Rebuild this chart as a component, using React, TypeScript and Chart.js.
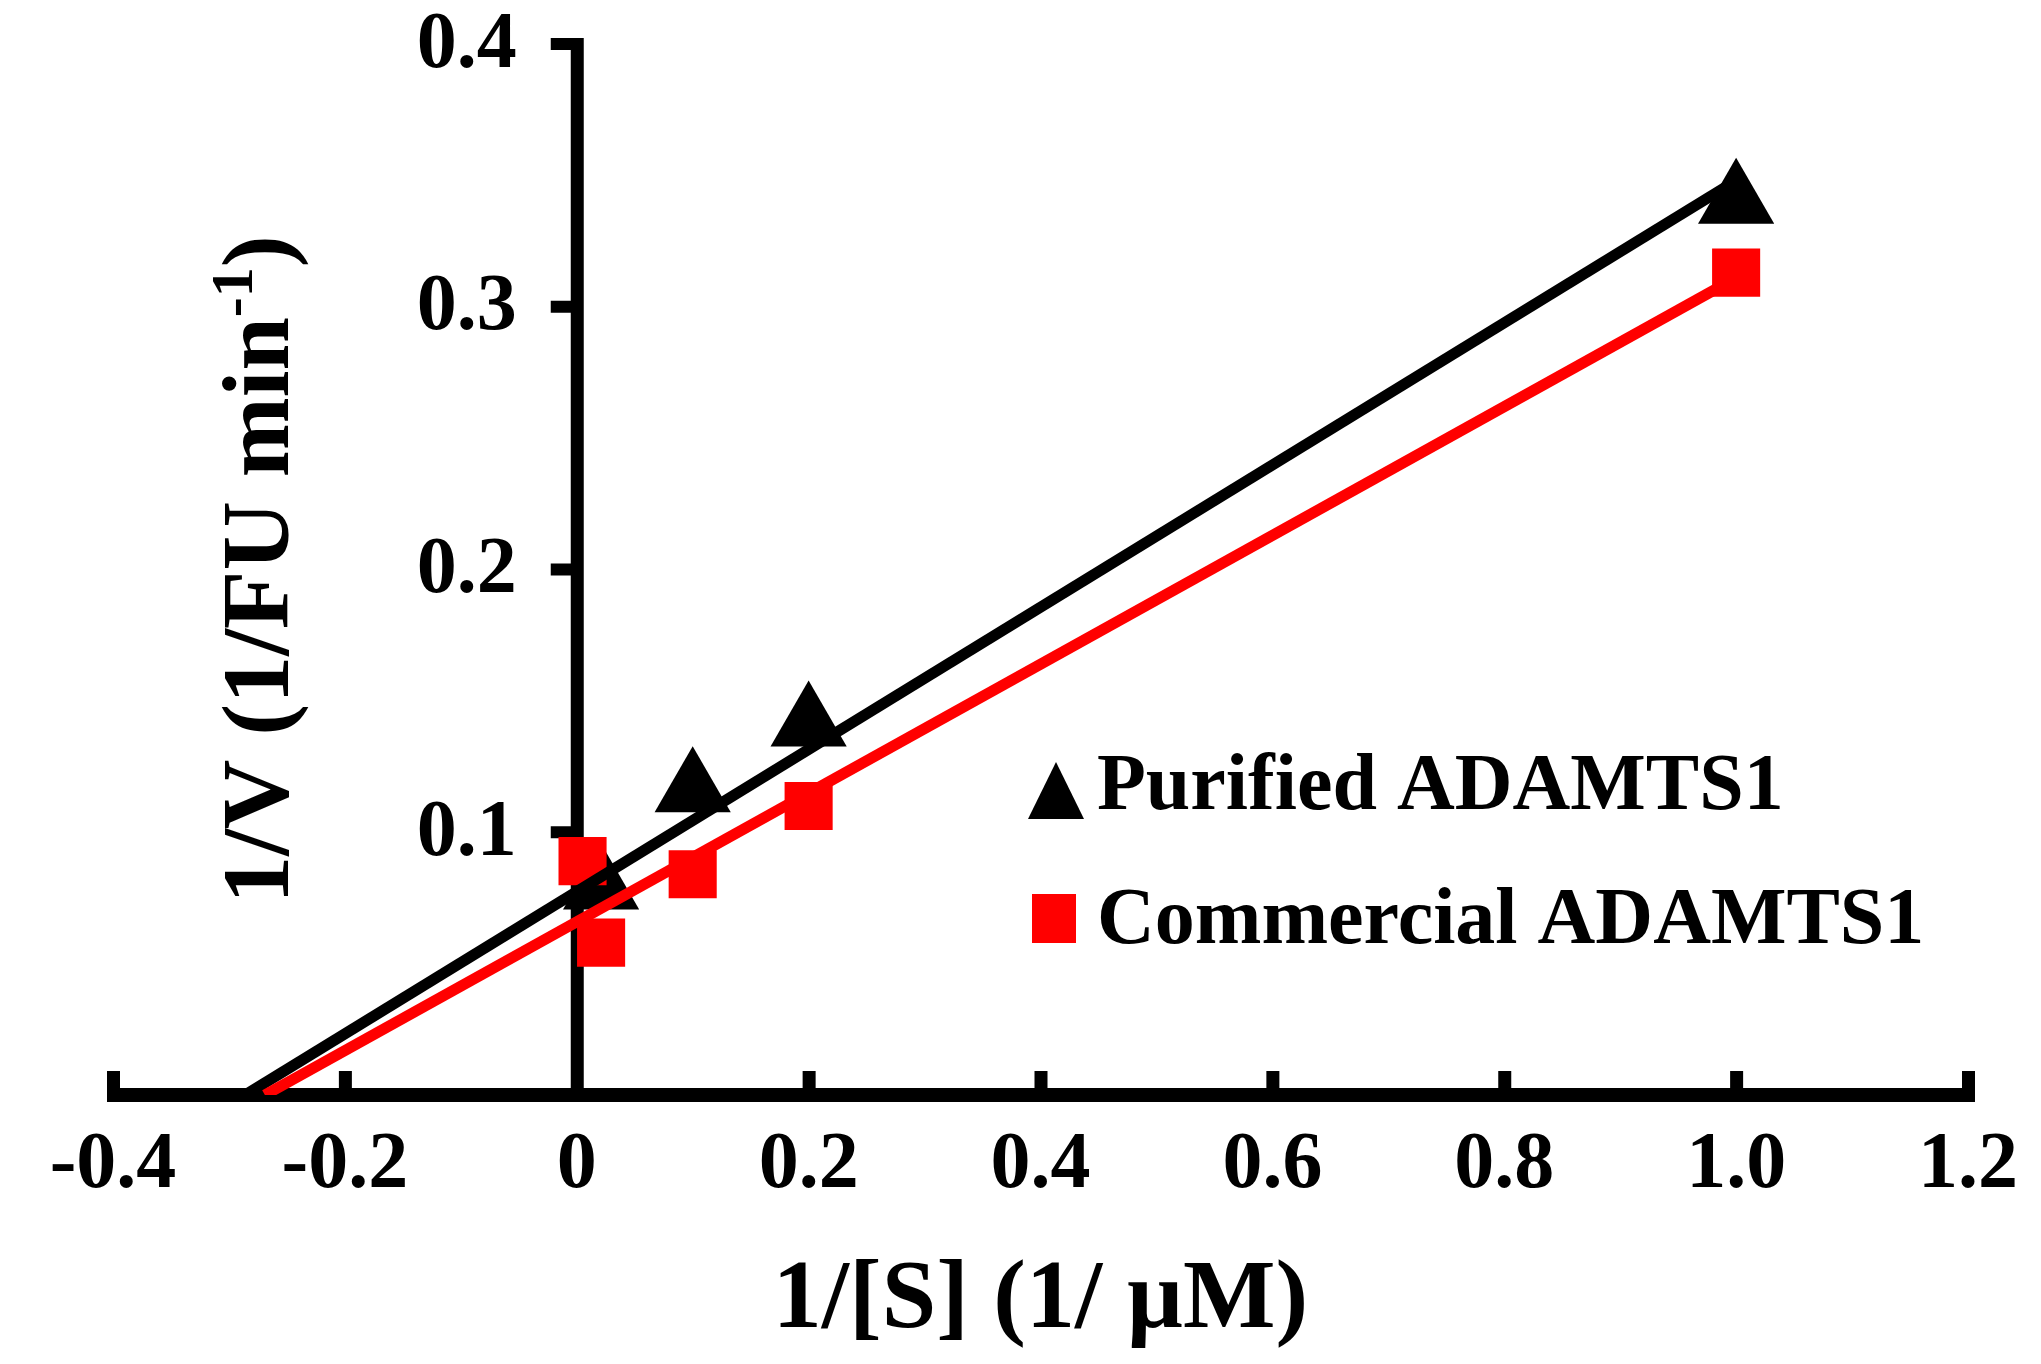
import React, { useEffect, useRef } from 'react';
import { Chart, registerables } from 'chart.js';

Chart.register(...registerables);

// axis ticks
const xTicks = [-0.4, -0.2, 0, 0.2, 0.4, 0.6, 0.8, 1.0, 1.2];
const yTicks = [0.1, 0.2, 0.3, 0.4];

// measured points (1/[S], 1/V)
const purifiedX = [0.021, 0.1, 0.2, 1.0];
const purifiedY = [0.079, 0.116, 0.141, 0.34];
const commercialX = [0.005, 0.021, 0.1, 0.2, 1.0];
const commercialY = [0.089, 0.058, 0.084, 0.11, 0.313];

// linear fits (Lineweaver-Burk), end points
const purifiedFitX = [-0.286, 1.0];
const purifiedFitY = [0, 0.348];
const commercialFitX = [-0.269, 1.0];
const commercialFitY = [0, 0.311];

const seriesNames = ['Purified ADAMTS1', 'Commercial ADAMTS1'];
const xTitle = '1/[S] (1/ µM)';
const yTitleMain = '1/V (1/FU min';
const yTitleSup = '-1';
const yTitleEnd = ')';

const FONT = "'Liberation Serif', 'Times New Roman', serif";
const RED = '#ff0000';

const toPoints = (xs: number[], ys: number[]) => xs.map((x, i) => ({ x, y: ys[i] }));

const axesPlugin = {
  id: 'lbAxes',
  beforeDatasetsDraw(chart: any) {
    const { ctx } = chart;
    const { x, y } = chart.scales;
    const x0 = x.getPixelForValue(0);
    const y0 = y.getPixelForValue(0);
    const yTop = y.getPixelForValue(yTicks[yTicks.length - 1]);
    const left = x.getPixelForValue(xTicks[0]);
    const right = x.getPixelForValue(xTicks[xTicks.length - 1]);
    ctx.save();
    ctx.fillStyle = '#000';
    // x axis + inner ticks
    ctx.fillRect(left - 6, y0 - 7, right - left + 13, 14);
    xTicks.forEach((v) => {
      if (v === 0) return;
      const px = x.getPixelForValue(v);
      ctx.fillRect(px - 6, y0 - 24, 13, 18);
    });
    // y axis + outer ticks
    ctx.fillRect(x0 - 6, yTop - 6, 13, y0 - yTop + 6);
    yTicks.forEach((v) => {
      const py = y.getPixelForValue(v);
      ctx.fillRect(x0 - 26, py - 6, 22, 12);
    });
    ctx.restore();
  },
  afterDraw(chart: any) {
    const { ctx } = chart;
    const { x, y } = chart.scales;
    const x0 = x.getPixelForValue(0);
    const y0 = y.getPixelForValue(0);
    const yTop = y.getPixelForValue(yTicks[yTicks.length - 1]);
    ctx.save();
    ctx.fillStyle = '#000';

    // y tick labels, left of the axis at x = 0
    ctx.font = `bold 80px ${FONT}`;
    ctx.textAlign = 'right';
    ctx.textBaseline = 'middle';
    yTicks.forEach((v) => {
      ctx.fillText(v.toFixed(1), x0 - 60, y.getPixelForValue(v) + 2);
    });

    // y title with superscript
    const mainFont = `bold 96px ${FONT}`;
    const supFont = `bold 60px ${FONT}`;
    ctx.font = mainFont;
    const wMain = ctx.measureText(yTitleMain).width;
    const wEnd = ctx.measureText(yTitleEnd).width;
    ctx.font = supFont;
    const wSup = ctx.measureText(yTitleSup).width;
    const total = wMain + wSup + wEnd;
    ctx.translate(288, (y0 + yTop) / 2);
    ctx.rotate(-Math.PI / 2);
    ctx.textAlign = 'left';
    ctx.textBaseline = 'alphabetic';
    const start = -total / 2;
    ctx.font = mainFont;
    ctx.fillText(yTitleMain, start, 0);
    ctx.font = supFont;
    ctx.fillText(yTitleSup, start + wMain, -36);
    ctx.font = mainFont;
    ctx.fillText(yTitleEnd, start + wMain + wSup, 0);
    ctx.restore();

    // legend
    ctx.save();
    ctx.fillStyle = '#000';
    ctx.beginPath();
    ctx.moveTo(1056, 762);
    ctx.lineTo(1084, 819);
    ctx.lineTo(1028, 819);
    ctx.closePath();
    ctx.fill();
    ctx.fillStyle = RED;
    ctx.fillRect(1032, 894, 44, 49);
    ctx.fillStyle = '#000';
    ctx.font = `bold 80px ${FONT}`;
    ctx.textAlign = 'left';
    ctx.textBaseline = 'alphabetic';
    ctx.fillText(seriesNames[0], 1097, 809);
    ctx.fillText(seriesNames[1], 1097, 943);
    ctx.restore();
  },
};

function LineweaverBurkChart() {
  const canvasRef = useRef<HTMLCanvasElement>(null);

  useEffect(() => {
    if (!canvasRef.current) return;
    const chart = new Chart(canvasRef.current, {
      type: 'scatter',
      data: {
        datasets: [
          {
            label: 'Commercial fit',
            data: toPoints(commercialFitX, commercialFitY),
            showLine: true,
            borderColor: RED,
            borderWidth: 11,
            pointRadius: 0,
          },
          {
            label: 'Purified fit',
            data: toPoints(purifiedFitX, purifiedFitY),
            showLine: true,
            borderColor: '#000',
            borderWidth: 11,
            pointRadius: 0,
          },
          {
            label: seriesNames[1],
            data: toPoints(commercialX, commercialY),
            pointStyle: 'rect',
            pointRadius: 34,
            pointHoverRadius: 34,
            backgroundColor: RED,
            borderColor: RED,
            pointBorderWidth: 0,
          },
          {
            label: seriesNames[0],
            data: toPoints(purifiedX, purifiedY),
            pointStyle: 'triangle',
            pointRadius: 44,
            pointHoverRadius: 44,
            backgroundColor: '#000',
            borderColor: '#000',
            pointBorderWidth: 0,
          },
        ],
      },
      options: {
        animation: false,
        responsive: false,
        devicePixelRatio: 1,
        events: [],
        layout: { padding: { left: 113, right: 66, top: 36, bottom: 0 } },
        plugins: { legend: { display: false }, tooltip: { enabled: false } },
        scales: {
          x: {
            type: 'linear',
            min: xTicks[0],
            max: xTicks[xTicks.length - 1],
            afterBuildTicks: (s: any) => {
              s.ticks = xTicks.map((value) => ({ value }));
            },
            afterFit: (s: any) => {
              s.height = 269;
            },
            grid: { display: false, drawTicks: false },
            border: { display: false },
            ticks: {
              padding: 23,
              color: '#000',
              autoSkip: false,
              maxRotation: 0,
              font: { family: FONT, size: 80, weight: 'bold' },
              callback: (v: any) => (Number(v) === 0 ? '0' : Number(v).toFixed(1)),
            },
            title: {
              display: true,
              text: xTitle,
              color: '#000',
              font: { family: FONT, size: 98, weight: 'bold' },
              padding: { top: 0, bottom: 4 },
            },
          },
          y: {
            type: 'linear',
            min: 0,
            max: yTicks[yTicks.length - 1],
            display: false,
          },
        },
      },
      plugins: [axesPlugin],
    } as any);
    return () => chart.destroy();
  }, []);

  return (
    <div style={{ position: 'fixed', left: 0, top: 0, width: 2041, height: 1364, background: '#fff' }}>
      <canvas ref={canvasRef} width={2041} height={1364} style={{ display: 'block' }} />
    </div>
  );
}

export default function App() {
  return <LineweaverBurkChart />;
}
